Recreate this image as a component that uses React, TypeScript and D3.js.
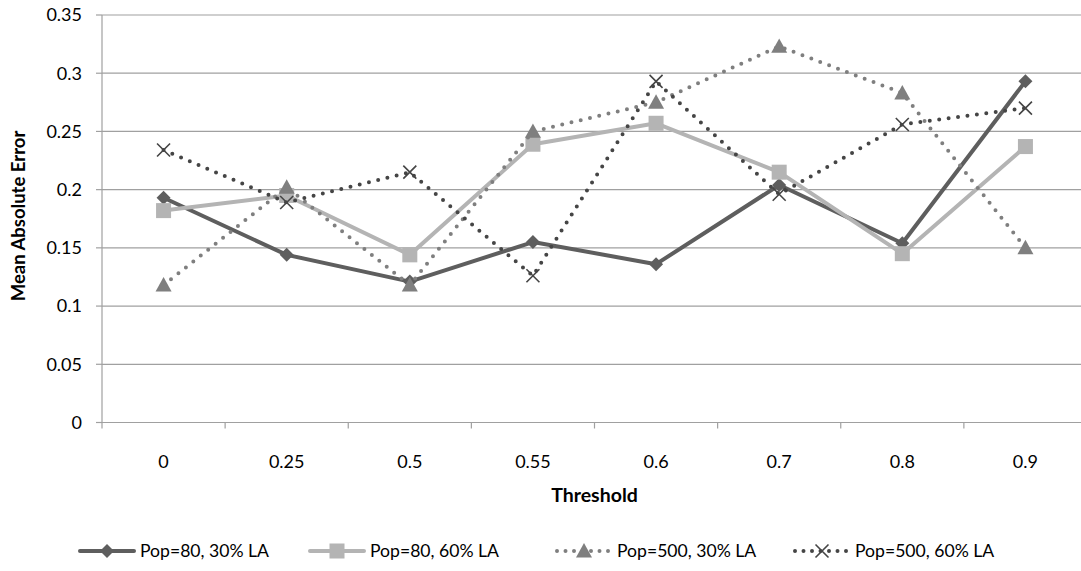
import React from "react";
import * as d3 from "d3";

const categories = ["0", "0.25", "0.5", "0.55", "0.6", "0.7", "0.8", "0.9"];
const yTicks = [0, 0.05, 0.1, 0.15, 0.2, 0.25, 0.3, 0.35];
const seriesNames = ["Pop=80, 30% LA", "Pop=80, 60% LA", "Pop=500, 30% LA", "Pop=500, 60% LA"];
const pop80la30 = [0.193, 0.144, 0.121, 0.155, 0.136, 0.204, 0.154, 0.293];
const pop80la60 = [0.182, 0.195, 0.144, 0.239, 0.257, 0.215, 0.145, 0.237];
const pop500la30 = [0.118, 0.202, 0.118, 0.25, 0.275, 0.323, 0.283, 0.15];
const pop500la60 = [0.234, 0.189, 0.215, 0.126, 0.293, 0.196, 0.256, 0.27];

const W = 1081, H = 571;
const left = 102, right = 1087, top = 15, bottom = 422.5;
const font = "Lato, 'Open Sans', sans-serif";

type Style = { color: string; dotted: boolean; marker: string; width: number };
const styles: Style[] = [
  { color: "#5e5e5e", dotted: false, marker: "diamond", width: 4 },
  { color: "#b4b4b4", dotted: false, marker: "square", width: 4 },
  { color: "#7f7f7f", dotted: true, marker: "triangle", width: 4 },
  { color: "#454545", dotted: true, marker: "x", width: 4 },
];

function Marker({ type, x, y, color }: { type: string; x: number; y: number; color: string }) {
  if (type === "diamond") {
    const s = 7;
    return <path d={`M${x},${y - s}L${x + s},${y}L${x},${y + s}L${x - s},${y}Z`} fill={color} />;
  }
  if (type === "square") {
    const s = 7.5;
    return <rect x={x - s} y={y - s} width={2 * s} height={2 * s} fill={color} />;
  }
  if (type === "triangle") {
    const s = 8;
    return <path d={`M${x},${y - s}L${x + s},${y + s * 0.8}L${x - s},${y + s * 0.8}Z`} fill={color} />;
  }
  const s = 6.5;
  return (
    <path d={`M${x - s},${y - s}L${x + s},${y + s}M${x + s},${y - s}L${x - s},${y + s}`} stroke={color} strokeWidth={1.6} fill="none" />
  );
}

export default function App() {
  const x = d3.scaleBand<string>().domain(categories).range([left, right]);
  const y = d3.scaleLinear().domain([0, 0.35]).range([bottom, top]);
  const data = [pop80la30, pop80la60, pop500la30, pop500la60];
  const cx = (c: string) => (x(c) as number) + x.bandwidth() / 2;
  const line = d3
    .line<number>()
    .x((_, i) => cx(categories[i]))
    .y((d) => y(d));

  const legendX = [80, 310, 557, 795];
  const legendY = 551;

  return (
    <svg width={W} height={H} style={{ position: "absolute", left: 0, top: 0, background: "#fff" }}>
      <rect width={W} height={H} fill="#fff" />
      {yTicks.map((t) => (
        <g key={t}>
          {t > 0 && <line x1={left} x2={W} y1={y(t)} y2={y(t)} stroke="#a0a0a0" strokeWidth={1.2} />}
          <line x1={left - 6} x2={left} y1={y(t)} y2={y(t)} stroke="#a0a0a0" strokeWidth={1.2} />
          <text x={left - 20} y={y(t)} dy="0.35em" textAnchor="end" fontSize={18} fontFamily={font} fill="#000">
            {String(t)}
          </text>
        </g>
      ))}
      <line x1={left} x2={left} y1={top} y2={bottom} stroke="#a0a0a0" strokeWidth={1.2} />
      <line x1={left} x2={W} y1={bottom} y2={bottom} stroke="#a0a0a0" strokeWidth={1.2} />
      {categories.map((c) => (
        <g key={c}>
          <line x1={x(c) as number} x2={x(c) as number} y1={bottom} y2={bottom + 6} stroke="#a0a0a0" strokeWidth={1.2} />
          <text x={cx(c)} y={462} dy="0.35em" textAnchor="middle" fontSize={18} fontFamily={font} fill="#000">
            {c}
          </text>
        </g>
      ))}
      <text x={594.5} y={495} dy="0.35em" textAnchor="middle" fontSize={19.5} fontWeight="bold" fontFamily={font} fill="#000">
        Threshold
      </text>
      <text
        transform={`translate(19,216) rotate(-90)`}
        dy="0.35em"
        textAnchor="middle"
        fontSize={18.5}
        fontWeight="bold"
        fontFamily={font}
        fill="#000"
      >
        Mean Absolute Error
      </text>
      {data.map((d, si) => {
        const st = styles[si];
        return (
          <g key={si}>
            <path
              d={line(d) as string}
              fill="none"
              stroke={st.color}
              strokeWidth={st.width}
              strokeLinejoin="round"
              strokeLinecap="round"
              strokeDasharray={st.dotted ? "0 9.5" : undefined}
            />
            {d.map((v, i) => (
              <Marker key={i} type={st.marker} x={cx(categories[i])} y={y(v)} color={st.color} />
            ))}
          </g>
        );
      })}
      {seriesNames.map((n, si) => {
        const st = styles[si];
        const x0 = legendX[si];
        return (
          <g key={n}>
            <line
              x1={x0}
              x2={x0 + 54}
              y1={legendY}
              y2={legendY}
              stroke={st.color}
              strokeWidth={st.width}
              strokeLinecap="round"
              strokeDasharray={st.dotted ? "0 8.5" : undefined}
            />
            <Marker type={st.marker} x={x0 + 27} y={legendY} color={st.color} />
            <text x={x0 + 60} y={legendY} dy="0.35em" fontSize={17.6} fontFamily={font} fill="#000">
              {n}
            </text>
          </g>
        );
      })}
    </svg>
  );
}
